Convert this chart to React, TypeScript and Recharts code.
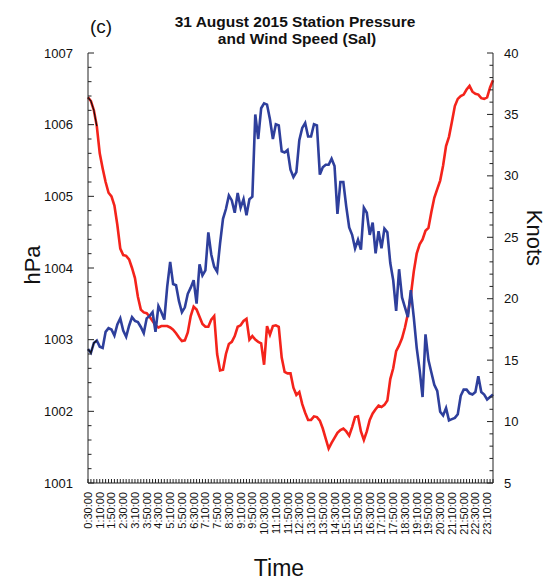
import React from "react"
import { LineChart, Line, XAxis, YAxis } from "recharts"

// station pressure (hPa), every 10 minutes from 0:30 to 23:30
const pressure = [
  1006.38, 1006.33, 1006.2, 1005.98, 1005.6, 1005.39, 1005.2, 1005.05, 1005.0, 1004.87,
  1004.6, 1004.27, 1004.18, 1004.17, 1004.12, 1004.0, 1003.86, 1003.6, 1003.42, 1003.38,
  1003.37, 1003.32, 1003.26, 1003.2, 1003.17, 1003.19, 1003.19, 1003.19, 1003.17, 1003.14,
  1003.09, 1003.03, 1002.98, 1002.99, 1003.1, 1003.33, 1003.46, 1003.42, 1003.32, 1003.22,
  1003.18, 1003.18, 1003.28, 1003.33, 1002.8, 1002.57, 1002.58, 1002.8, 1002.94, 1002.97,
  1003.05, 1003.18, 1003.2, 1003.26, 1003.29, 1003.0, 1003.05, 1003.0, 1002.97, 1002.95,
  1002.65, 1003.19, 1003.07, 1003.19, 1003.2, 1003.18, 1002.75, 1002.55, 1002.53, 1002.53,
  1002.33, 1002.23, 1002.27, 1002.1, 1001.98, 1001.88, 1001.88, 1001.93, 1001.92, 1001.87,
  1001.76, 1001.62, 1001.48, 1001.56, 1001.63, 1001.7, 1001.74, 1001.76, 1001.72, 1001.66,
  1001.78, 1001.92, 1001.93, 1001.72, 1001.6, 1001.72, 1001.88, 1001.97, 1002.03, 1002.08,
  1002.06, 1002.09, 1002.15, 1002.45, 1002.6, 1002.84, 1002.92, 1003.02, 1003.17, 1003.36,
  1003.62, 1003.95, 1004.2, 1004.33, 1004.4, 1004.52, 1004.56, 1004.78, 1004.98, 1005.1,
  1005.22, 1005.43, 1005.7, 1005.83, 1006.04, 1006.26, 1006.36, 1006.4, 1006.42, 1006.49,
  1006.54, 1006.46, 1006.43, 1006.42, 1006.37, 1006.36, 1006.38, 1006.52, 1006.62,
]

// wind speed (knots)
const wind = [
  15.9, 15.6, 16.4, 16.6, 16.1, 16.0, 17.3, 17.6, 17.5, 17.0,
  17.9, 18.4, 17.4, 16.9, 17.8, 18.5, 18.2, 18.1, 17.7, 17.2,
  18.4, 18.6, 18.9, 17.3, 19.4, 18.9, 18.3, 21.0, 23.0, 21.2,
  21.1, 19.8, 18.9, 19.3, 20.4, 20.9, 21.5, 19.6, 22.8, 21.9,
  22.3, 25.4, 23.6, 22.6, 22.2, 24.5, 26.5, 27.3, 28.4, 28.0,
  27.0, 28.6, 27.4, 28.1, 26.8, 28.1, 28.3, 35.0, 33.0, 35.5,
  35.9, 35.8, 34.6, 33.0, 34.2, 34.1, 32.0, 31.9, 32.1, 30.5,
  29.9, 30.3, 32.9, 33.9, 34.3, 33.2, 33.2, 34.2, 34.1, 30.1,
  30.7, 30.9, 30.9, 31.4, 30.8, 26.9, 29.5, 29.5, 27.5, 25.8,
  25.2, 24.1, 24.8, 24.0, 27.4, 27.0, 25.2, 26.2, 23.7, 25.5,
  24.1, 25.7, 25.4, 22.9, 21.5, 19.0, 22.4, 20.1, 19.3, 18.5,
  20.7, 18.5, 16.0, 14.2, 12.0, 17.1, 15.0, 14.0, 13.0, 12.5,
  10.8, 10.5, 11.1, 10.1, 10.2, 10.3, 10.6, 12.1, 12.6, 12.6,
  12.3, 12.2, 12.4, 13.7, 12.4, 12.2, 11.8, 12.0, 12.2,
]

const timeLabels = [
  "0:30:00", "1:10:00", "1:50:00", "2:30:00", "3:10:00", "3:50:00", "4:30:00",
  "5:10:00", "5:50:00", "6:30:00", "7:10:00", "7:50:00", "8:30:00", "9:10:00",
  "9:50:00", "10:30:00", "11:10:00", "11:50:00", "12:30:00", "13:10:00", "13:50:00",
  "14:30:00", "15:10:00", "15:50:00", "16:30:00", "17:10:00", "17:50:00", "18:30:00",
  "19:10:00", "19:50:00", "20:30:00", "21:10:00", "21:50:00", "22:30:00", "23:10:00",
]

const pressureLabels = [1001, 1002, 1003, 1004, 1005, 1006, 1007]
const knotLabels = [5, 10, 15, 20, 25, 30, 35, 40]

// minor tick positions
const pressureTicks = Array.from({ length: 31 }, (_, k) => 1001 + k * 0.2)
const knotTicks = Array.from({ length: 36 }, (_, k) => 5 + k)

const times = pressure.map((_, i) => {
  const m = 30 + i * 10
  return `${Math.floor(m / 60)}:${String(m % 60).padStart(2, "0")}:00`
})

const data = times.map((t, i) => ({
  time: t,
  pressure: pressure[i],
  wind: wind[i],
  pStart: i < 4 ? pressure[i] : null,
  wStart: i < 4 ? wind[i] : null,
}))

const FONT = "Liberation Sans, Arial, Helvetica, sans-serif"
const AXIS = "#222"

function TimeTick(props: any) {
  const { x, y, payload } = props
  const show = timeLabels.includes(payload.value)
  return (
    <g>
      <line x1={x} y1={y} x2={x} y2={y - 4} stroke={AXIS} strokeWidth={1} />
      {show && (
        <text
          x={x + 4}
          y={y + 9}
          transform={`rotate(-90, ${x + 4}, ${y + 9})`}
          textAnchor="end"
          fontSize={11}
          fontFamily={FONT}
          fill="#111"
        >
          {payload.value}
        </text>
      )}
    </g>
  )
}

function PressureTick(props: any) {
  const { x, y, payload } = props
  const v = payload.value
  const major = pressureLabels.some((p) => Math.abs(p - v) < 0.01)
  return (
    <g>
      <line x1={x} y1={y} x2={x + (major ? 6 : 3.5)} y2={y} stroke={AXIS} strokeWidth={1} />
      {major && (
        <text x={x - 15} y={y + 4.5} textAnchor="end" fontSize={13} fontFamily={FONT} fill="#111">
          {Math.round(v)}
        </text>
      )}
    </g>
  )
}

function KnotTick(props: any) {
  const { x, y, payload } = props
  const v = payload.value
  const major = knotLabels.includes(v)
  return (
    <g>
      <line x1={x} y1={y} x2={x - (major ? 6 : 3.5)} y2={y} stroke={AXIS} strokeWidth={1} />
      {major && (
        <text x={x + 11} y={y + 4.5} textAnchor="start" fontSize={13} fontFamily={FONT} fill="#111">
          {v}
        </text>
      )}
    </g>
  )
}

export default function App() {
  return (
    <div style={{ position: "absolute", left: 0, top: 0, width: 560, height: 585, background: "#fff" }}>
      <LineChart width={560} height={585} data={data} margin={{ top: 53, right: 0, bottom: 0, left: 0 }}>
        <XAxis
          dataKey="time"
          interval={0}
          height={102}
          tickSize={0}
          tickMargin={0}
          tickLine={false}
          axisLine={{ stroke: AXIS }}
          tick={<TimeTick />}
        />
        <YAxis
          yAxisId="left"
          width={88}
          domain={[1001, 1007]}
          ticks={pressureTicks}
          interval={0}
          tickSize={0}
          tickMargin={0}
          tickLine={false}
          axisLine={{ stroke: AXIS }}
          tick={<PressureTick />}
        />
        <YAxis
          yAxisId="right"
          orientation="right"
          width={67}
          domain={[5, 40]}
          ticks={knotTicks}
          interval={0}
          tickSize={0}
          tickMargin={0}
          tickLine={false}
          axisLine={{ stroke: AXIS }}
          tick={<KnotTick />}
        />
        <Line yAxisId="left" type="linear" dataKey="pressure" stroke="#f4231b" strokeWidth={2.6} dot={false} isAnimationActive={false} />
        <Line yAxisId="right" type="linear" dataKey="wind" stroke="#2e3f9c" strokeWidth={2.6} dot={false} isAnimationActive={false} />
        <Line yAxisId="left" type="linear" dataKey="pStart" stroke="#111" strokeWidth={1.2} dot={false} isAnimationActive={false} />
        <Line yAxisId="right" type="linear" dataKey="wStart" stroke="#111" strokeWidth={1.2} dot={false} isAnimationActive={false} />
      </LineChart>
      <svg width={560} height={585} style={{ position: "absolute", left: 0, top: 0, pointerEvents: "none" }}>
        <g fontFamily={FONT} fill="#111">
          <text x={90} y={33} fontSize={19}>(c)</text>
          <text x={295} y={26.5} fontSize={15.5} fontWeight="bold" textAnchor="middle">31 August 2015 Station Pressure</text>
          <text x={297} y={44} fontSize={15.5} fontWeight="bold" textAnchor="middle">and Wind Speed (Sal)</text>
          <text x={40} y={265} fontSize={22} textAnchor="middle" transform="rotate(-90, 40, 265)">hPa</text>
          <text x={527} y={238} fontSize={22} textAnchor="middle" transform="rotate(90, 527, 238)">Knots</text>
          <text x={279} y={576} fontSize={23} textAnchor="middle">Time</text>
        </g>
      </svg>
    </div>
  )
}
